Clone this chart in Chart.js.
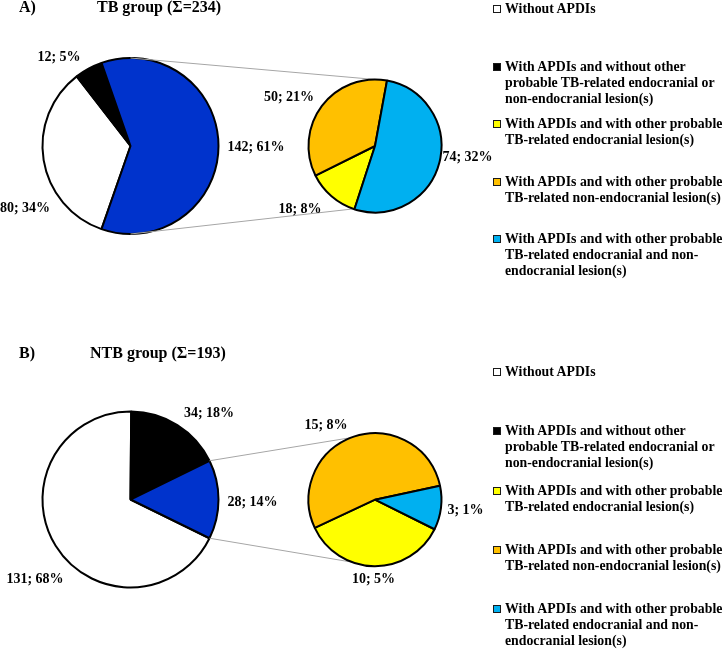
<!DOCTYPE html>
<html>
<head>
<meta charset="utf-8">
<script src="https://cdn.jsdelivr.net/npm/chart.js@4.4.0/dist/chart.umd.min.js"></script>
<style>
  html, body { margin: 0; padding: 0; background: #fff; }
  #wrap { position: relative; width: 724px; height: 649px; overflow: hidden;
          font-family: "Liberation Serif", "Times New Roman", serif; font-weight: bold; color: #000; }
  #wrap canvas { position: absolute; left: 0; top: 0; }
  .title { position: absolute; font-size: 16px; line-height: 16px; white-space: nowrap; }
  .leg { position: absolute; left: 493px; font-size: 13.8px; line-height: 16px; }
  .leg .box { position: absolute; left: 0; top: 4px; width: 6px; height: 6px; border: 1.5px solid #1a1a1a; }
  .leg .txt { position: absolute; left: 12px; top: 0; white-space: nowrap; }
</style>
</head>
<body>
<div id="wrap">
  <canvas id="bigA" width="724" height="649"></canvas>
  <canvas id="subA" width="724" height="649"></canvas>
  <canvas id="bigB" width="724" height="649"></canvas>
  <canvas id="subB" width="724" height="649"></canvas>
  <div class="title" style="left:19px; top:-1px;">A)</div>
  <div class="title" style="left:97px; top:-1px;">TB group (Σ=234)</div>
  <div class="title" style="left:19px; top:345px;">B)</div>
  <div class="title" style="left:90px; top:345px;">NTB group (Σ=193)</div>
  <div id="legA"></div>
  <div id="legB"></div>
</div>
<script>
const legendLabels = [
    ['Without APDIs'],
    ['With APDIs and without other', 'probable TB-related endocranial or', 'non-endocranial lesion(s)'],
    ['With APDIs and with other probable', 'TB-related endocranial lesion(s)'],
    ['With APDIs and with other probable', 'TB-related non-endocranial lesion(s)'],
    ['With APDIs and with other probable', 'TB-related endocranial and non-', 'endocranial lesion(s)']
];
const legendColors = ['#FFFFFF', '#000000', '#FFFF00', '#FFC000', '#00B0F0'];

// main pies: without APDIs, APDIs only, APDIs + other lesions (split out)
const mainColors = ['#FFFFFF', '#000000', '#0033CC'];
const tbMain = [80, 12, 142];
const tbMainPct = [34, 5, 61];
const ntbMain = [131, 34, 28];
const ntbMainPct = [68, 18, 14];

// second pies: endocranial, non-endocranial, both
const subColors = ['#FFFF00', '#FFC000', '#00B0F0'];
const tbSub = [18, 50, 74];
const tbSubPct = [8, 21, 32];
const ntbSub = [10, 15, 3];
const ntbSubPct = [5, 8, 1];

const W = 724, H = 649;

const sliceLabels = {
    id: 'sliceLabels',
    afterDatasetsDraw(chart, args, opts) {
        const ctx = chart.ctx;
        const arcs = chart.getDatasetMeta(0).data;
        const vals = chart.data.datasets[0].data;
        ctx.save();
        ctx.font = 'bold 14px "Liberation Serif"';
        ctx.fillStyle = '#000';
        ctx.textAlign = 'center';
        ctx.textBaseline = 'middle';
        arcs.forEach((arc, i) => {
            const off = opts.offsets[i];
            ctx.fillText(vals[i] + '; ' + opts.pct[i] + '%', arc.x + off[0], arc.y + off[1]);
        });
        ctx.restore();
    }
};

// point of the split slice nearest the top (-PI/2) or bottom (PI/2)
function extremePoint(arc, target) {
    const TAU = Math.PI * 2;
    const rel = ((target - arc.startAngle) % TAU + TAU) % TAU;
    let a;
    if (rel <= arc.endAngle - arc.startAngle) {
        a = target;
    } else {
        const s0 = Math.sin(arc.startAngle), s1 = Math.sin(arc.endAngle);
        if (target < 0) a = s0 < s1 ? arc.startAngle : arc.endAngle;
        else a = s0 > s1 ? arc.startAngle : arc.endAngle;
    }
    return [arc.x + arc.outerRadius * Math.cos(a), arc.y + arc.outerRadius * Math.sin(a)];
}

function connectors(bigChart, ends) {
    return {
        id: 'connectors',
        beforeDatasetsDraw(chart) {
            const big = bigChart.getDatasetMeta(0).data[2];
            const sub = chart.getDatasetMeta(0).data[0];
            const ctx = chart.ctx;
            ctx.save();
            ctx.strokeStyle = '#A6A6A6';
            ctx.lineWidth = 1;
            [-Math.PI / 2, Math.PI / 2].forEach((t, k) => {
                const p = extremePoint(big, t);
                const a = (ends[k] - 90) * Math.PI / 180;
                ctx.beginPath();
                ctx.moveTo(p[0], p[1]);
                ctx.lineTo(sub.x + sub.outerRadius * Math.cos(a), sub.y + sub.outerRadius * Math.sin(a));
                ctx.stroke();
            });
            ctx.restore();
        }
    };
}

function pie(id, values, colors, pct, cx, cy, r, rotation, offsets, extra) {
    const s = 100;
    return new Chart(document.getElementById(id), {
        type: 'pie',
        data: {
            labels: values.map((v, i) => i),
            datasets: [{
                data: values,
                backgroundColor: colors,
                borderColor: '#000',
                borderWidth: 2
            }]
        },
        options: {
            responsive: false,
            animation: false,
            events: [],
            radius: r,
            rotation: rotation,
            layout: { padding: { left: cx - s, right: W - cx - s, top: cy - s, bottom: H - cy - s } },
            plugins: {
                legend: { display: false },
                tooltip: { enabled: false },
                sliceLabels: { offsets: offsets, pct: pct }
            }
        },
        plugins: extra ? [sliceLabels, extra] : [sliceLabels]
    });
}

function splitRotation(values) {
    const total = values.reduce((a, b) => a + b, 0);
    return 90 + values[2] / total * 180;
}

const bigA = pie('bigA', tbMain, mainColors, tbMainPct, 130.5, 146, 88, splitRotation(tbMain),
    [[-105.5, 62], [-71.5, -89], [125.5, 1]]);
pie('subA', tbSub, subColors, tbSubPct, 375, 146, 66.5, 198,
    [[-75, 63], [-86, -49], [92.5, 11]], connectors(bigA, [10, 199]));

const bigB = pie('bigB', ntbMain, mainColors, ntbMainPct, 130.5, 499.5, 88, splitRotation(ntbMain),
    [[-95.5, 79.5], [78.5, -86.5], [122, 2.5]]);
pie('subB', ntbSub, subColors, ntbSubPct, 375, 499.7, 66.5, 116.4,
    [[-1.5, 79.3], [-49, -74.7], [90.5, 10.3]], connectors(bigB, [-21, 200]));

function buildLegend(id, start, step) {
    const box = document.getElementById(id);
    legendLabels.forEach((lines, i) => {
        const item = document.createElement('div');
        item.className = 'leg';
        item.style.top = (start + i * step - 8) + 'px';
        const mk = document.createElement('div');
        mk.className = 'box';
        mk.style.background = legendColors[i];
        const txt = document.createElement('div');
        txt.className = 'txt';
        txt.innerHTML = lines.join('<br>');
        item.appendChild(mk);
        item.appendChild(txt);
        box.appendChild(item);
    });
}
buildLegend('legA', 9, 57.6);
buildLegend('legB', 372, 59.25);
</script>
</body>
</html>
